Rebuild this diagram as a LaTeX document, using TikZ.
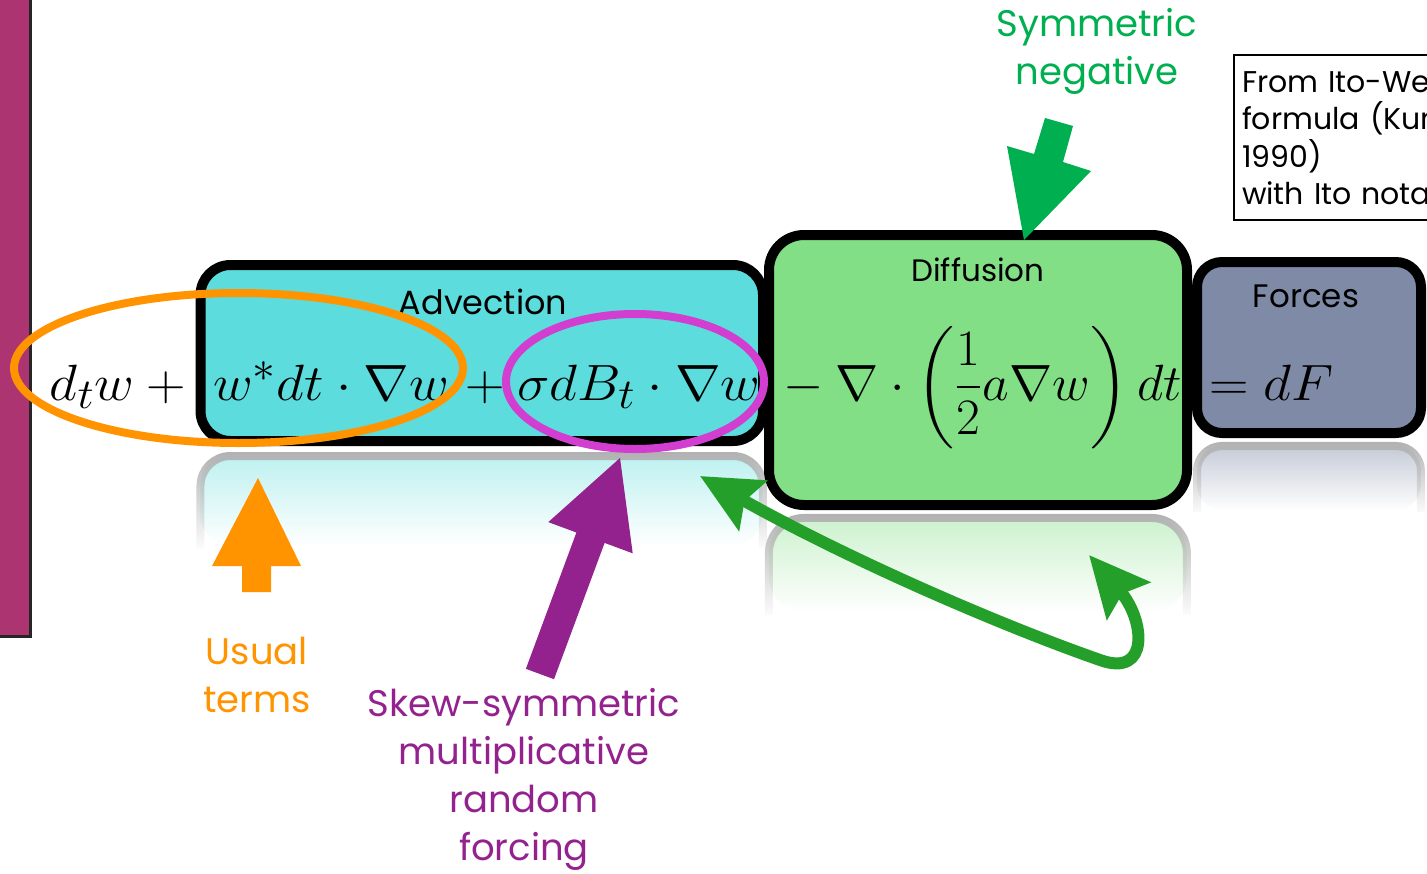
\documentclass[tikz,border=0pt]{standalone}
\usepackage{amsmath}
\usepackage{graphicx}
\usepackage{fontspec}
\setmainfont{Poppins}
\usetikzlibrary{arrows.meta,fadings,shapes.geometric}
\definecolor{barcol}{HTML}{AC3470}
\definecolor{advcol}{HTML}{5CDCDD}
\definecolor{difcol}{HTML}{83DF85}
\definecolor{forcol}{HTML}{7F8BA6}
\definecolor{orangec}{HTML}{FF9400}
\definecolor{purplec}{HTML}{93228F}
\definecolor{magentac}{HTML}{D23FD0}
\definecolor{curvegreen}{HTML}{24A02A}
\definecolor{symgreen}{HTML}{00B050}
\newcommand{\bigmath}[1]{\scalebox{2.2}[2.05]{\Huge$#1$}}
\newcommand{\bigmathn}[1]{\scalebox{2.08}[2.05]{\Huge$#1$}}
\tikzset{
  box/.style={draw=black, line width=10pt, inner sep=0pt},
  reflfill/.style={path fading=south},
  refledge/.style={draw=black!30, line width=8pt, path fading=south},
  eq/.style={anchor=base, inner sep=0pt},
  boxlabel/.style={inner sep=0pt},
  biglabel/.style={inner sep=0pt, align=center, font=\fontsize{37}{48}\selectfont},
  ring/.style={ellipse, draw, line width=8pt, inner sep=0pt, fill=none},
  bigtip/.tip={Stealth[length=60pt, width=56pt, inset=9pt]},
}
\begin{document}
\begin{tikzpicture}[x=1pt,y=-1pt]
\useasboundingbox (0,0) rectangle (1427,873);
\clip (0,0) rectangle (1427,873);
\fill[white] (0,0) rectangle (1427,873);

% left bar
\fill[barcol] (-10,-10) rectangle (30,636);
\draw[black!85, line width=3pt] (30,-10) -- (30,636) -- (-10,636);

% reflections
\fill[reflfill, fill=advcol!40, rounded corners=30pt] (200.5,456) rectangle (763,545);
\draw[refledge, rounded corners=30pt] (200.5,548) -- (200.5,456) -- (763,456) -- (763,548);
\fill[reflfill, fill=difcol!40, rounded corners=35pt] (769,518) rectangle (1187,612);
\draw[refledge, rounded corners=35pt] (769,615) -- (769,518) -- (1187,518) -- (1187,615);
\fill[reflfill, fill=forcol!45, rounded corners=25pt] (1197,446) rectangle (1421,510);
\draw[refledge, rounded corners=25pt] (1197,512) -- (1197,446) -- (1421,446) -- (1421,512);

% boxes
\node[box, fill=advcol, rounded corners=30pt, minimum width=562.5pt, minimum height=176pt] (adv) at (481.75,353) {};
\node[box, fill=forcol, rounded corners=25pt, minimum width=224pt, minimum height=171pt] (for) at (1309,347.5) {};
\node[box, fill=difcol, rounded corners=35pt, minimum width=418pt, minimum height=270pt] (dif) at (978,370) {};

% box labels
\node[boxlabel, font=\fontsize{33.5}{40}\selectfont] (advlab) at (483,302) {Advection};
\node[boxlabel, font=\fontsize{31}{37}\selectfont] (diflab) at (978,270) {Diffusion};
\node[boxlabel, font=\fontsize{32.5}{39}\selectfont] (forlab) at (1306,296) {Forces};

% equation
\node[eq] (eqA) at (124,400) {\bigmath{d_t w + {}}};
\node[eq] (eqB) at (331,400) {\bigmath{w^{*}dt\cdot\nabla w}};
\node[eq] (eqC) at (485,400) {\bigmath{+}};
\node[eq] (eqD) at (639,400) {\bigmath{\sigma dB_t\cdot\nabla w}};
\node[eq] (eqE) at (977,400) {\bigmathn{{}-\nabla\cdot\left(\dfrac{1}{2}a\nabla w\right)dt}};
\node[eq] (eqF) at (1264,400) {\bigmath{{}=dF}};

% ellipses
\node[ring, draw=orangec, minimum width=449pt, minimum height=150pt] (ovA) at (238.5,368) {};
\node[ring, draw=magentac, minimum width=258pt, minimum height=135pt] (ovB) at (635,381.5) {};

% orange block arrow
\fill[orangec] (258,478) -- (301,566) -- (271,566) -- (271,592) -- (242,592) -- (242,566) -- (212,566) -- cycle;
% purple block arrow
\fill[purplec] (620,458) -- (632.7,553.3) -- (604.6,542.9) -- (554,679.2) -- (525.9,668.8) -- (576.4,532.5) -- (548.3,522.1) -- cycle;
% green block arrow
\fill[symgreen] (1045,118) -- (1073,126) -- (1063,162) -- (1091,171) -- (1024,240) -- (1007,146) -- (1034,154) -- cycle;

% curved double arrow
\coordinate (cL) at (700,476);
\coordinate (cR) at (1089,555);
\draw[curvegreen, line width=12pt, {bigtip}-{bigtip}] (cL) .. controls (850,560) and (1000,625) .. (1100,660) .. controls (1150,678) and (1145,620) .. (cR);

% labels
\node[biglabel, text=symgreen] (sym) at (1097,51.5) {Symmetric\\negative};
\node[biglabel, text=orangec] (usual) at (257,675) {Usual\\terms};
\node[biglabel, text=purplec] (skew) at (524,779) {Skew-symmetric\\multiplicative\\random\\forcing};

% text box
\node[draw=black, line width=2pt, anchor=north west, align=left, inner xsep=8pt, inner ysep=0pt,
      text width=300pt, minimum height=165pt, font=\fontsize{30}{37.5}\selectfont] (ito) at (1233,54)
  {From Ito-Wentzell\\formula (Kunita\\1990)\\with Ito notation};
\end{tikzpicture}
\end{document}
